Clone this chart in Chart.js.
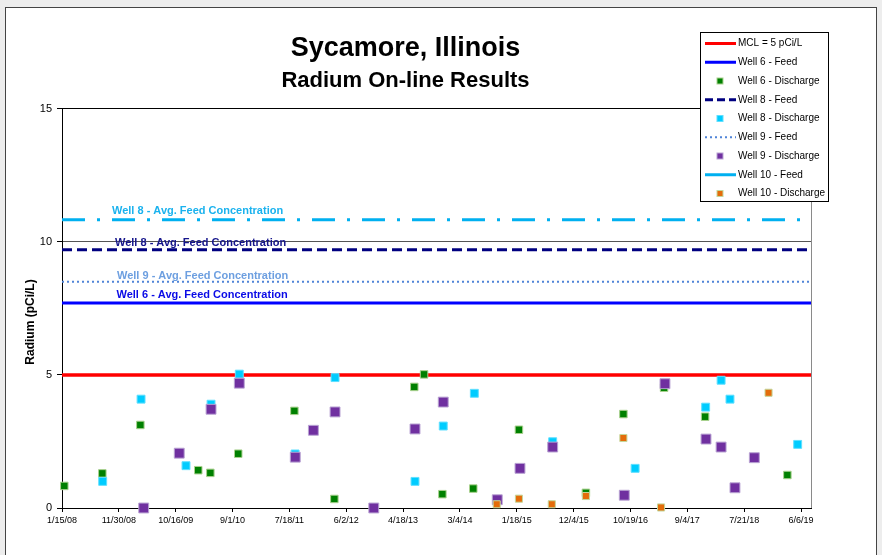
<!DOCTYPE html>
<html>
<head>
<meta charset="utf-8">
<script src="https://cdn.jsdelivr.net/npm/chart.js@4.4.0/dist/chart.umd.min.js"></script>
<style>
html,body{margin:0;padding:0;background:#ededed;}
#wrap{width:882px;height:555px;position:relative;}
canvas{display:block;}
</style>
</head>
<body>
<div id="wrap"><canvas id="c" width="882" height="555"></canvas></div>
<script>
// ---------- DATA ----------
const tickLabels = ['1/15/08','11/30/08','10/16/09','9/1/10','7/18/11','6/2/12','4/18/13','3/4/14','1/18/15','12/4/15','10/19/16','9/4/17','7/21/18','6/6/19'];
const axisStartDate = '1/15/08';
const axisEndDate = '8/1/19';
const yTicks = [0, 5, 10, 15];

const mclLevel = 5;
const well6FeedAvg = 7.7;
const well8FeedAvg = 9.7;
const well9FeedAvg = 8.5;
const well10FeedAvg = 10.83;

const well6DischargeDates = ['1/28/08','8/29/08','3/31/09','2/20/10','4/29/10','10/3/10','8/15/11','3/27/12','6/20/13','8/14/13','11/25/13','5/18/14','1/30/15','2/11/16','9/9/16','4/26/17','12/13/17','3/21/19'];
const well6DischargeValues = [0.83,1.30,3.12,1.42,1.32,2.04,3.65,0.34,4.55,5.02,0.52,0.73,2.94,0.57,3.53,4.52,3.43,1.24];

const well8DischargeDates = ['8/31/08','4/4/09','12/13/09','5/3/10','10/9/10','8/19/11','3/31/12','6/24/13','11/30/13','5/24/14','8/8/15','11/14/16','12/16/17','3/13/18','5/2/18','5/18/19'];
const well8DischargeValues = [1.00,4.09,1.59,3.90,5.03,2.03,4.90,1.00,3.08,4.31,2.49,1.49,3.79,4.80,4.09,2.39];

const well9DischargeDates = ['4/19/09','11/5/09','5/3/10','10/9/10','8/20/11','11/30/11','3/31/12','11/4/12','6/24/13','11/30/13','9/30/14','2/5/15','8/8/15','9/14/16','5/1/17','12/18/17','3/13/18','5/30/18','9/16/18'];
const well9DischargeValues = [0,2.06,3.71,4.69,1.91,2.92,3.61,0,2.97,3.98,0.31,1.49,2.29,0.48,4.67,2.59,2.29,0.76,1.89];

const well10DischargeDates = ['9/27/14','1/30/15','8/3/15','2/11/16','9/9/16','4/9/17','12/5/18'];
const well10DischargeValues = [0.14,0.35,0.14,0.45,2.63,0.02,4.33];

// ---------- HELPERS ----------
function toDay(s){ const p = s.split('/').map(Number); return Date.UTC(2000 + p[2], p[0] - 1, p[1]) / 86400000; }
function pts(dates, vals){ return dates.map((d, i) => ({x: toDay(d), y: vals[i]})); }
const xMin = toDay(axisStartDate), xMax = toDay(axisEndDate);
const tickDays = tickLabels.map(toDay);
function hline(v){ return [{x: xMin, y: v}, {x: xMax, y: v}]; }

const FONT = 'Arial, "Liberation Sans", Helvetica, sans-serif';

const C = {
  mcl: '#ff0000',
  w6line: '#0000ff', w6label: '#0a0ae6',
  w8line: '#000080', w8label: '#16168c',
  w9line: '#4f84d8', w9label: '#6d9fe0',
  w10line: '#00b0f0', w10label: '#1ab2ee',
  green: '#008000', greenB: '#a9d18e',
  cyan: '#00ccff', cyanB: '#5fdfff',
  purple: '#7030a0', purpleB: '#b9a3d3',
  orange: '#e46c0a', orangeB: '#c4d79b'
};

// ---------- PLUGIN: frame, labels, legend ----------
const decor = {
  id: 'decor',
  beforeDraw(chart){
    const ctx = chart.ctx;
    ctx.save();
    ctx.fillStyle = '#ededed';
    ctx.fillRect(0, 0, 882, 555);
    ctx.fillStyle = '#ffffff';
    ctx.fillRect(6, 8, 870, 560);
    ctx.strokeStyle = '#444';
    ctx.lineWidth = 1;
    ctx.strokeRect(5.5, 7.5, 871, 560);
    ctx.restore();
  },
  afterDraw(chart){
    const ctx = chart.ctx, a = chart.chartArea, ys = chart.scales.y;
    ctx.save();
    // right border of plot
    ctx.strokeStyle = '#8a8a8a'; ctx.lineWidth = 1;
    ctx.beginPath(); ctx.moveTo(Math.round(a.right) + 0.5, a.top); ctx.lineTo(Math.round(a.right) + 0.5, a.bottom); ctx.stroke();

    // line labels
    ctx.font = 'bold 11px ' + FONT;
    ctx.textBaseline = 'middle'; ctx.textAlign = 'left';
    const labs = [
      ['Well 8 - Avg. Feed Concentration', well10FeedAvg, 9.3, 112, C.w10label],
      ['Well 8 - Avg. Feed Concentration', well8FeedAvg, 7.3, 115, C.w8label],
      ['Well 9 - Avg. Feed Concentration', well9FeedAvg, 6.3, 117, C.w9label],
      ['Well 6 - Avg. Feed Concentration', well6FeedAvg, 8.3, 116.5, C.w6label]
    ];
    labs.forEach(l => { ctx.fillStyle = l[4]; ctx.fillText(l[0], l[3], ys.getPixelForValue(l[1]) - l[2]); });

    // y title
    ctx.save();
    ctx.translate(33.5, 322);
    ctx.rotate(-Math.PI / 2);
    ctx.font = 'bold 12px ' + FONT;
    ctx.fillStyle = '#000'; ctx.textAlign = 'center'; ctx.textBaseline = 'alphabetic';
    ctx.fillText('Radium (pCi/L)', 0, 0);
    ctx.restore();

    // legend
    const lx = 700.5, ly = 32.5, lw = 128, lh = 169;
    ctx.fillStyle = '#fff'; ctx.fillRect(lx, ly, lw, lh);
    ctx.strokeStyle = '#000'; ctx.lineWidth = 1; ctx.strokeRect(lx, ly, lw, lh);
    const items = [
      {t: 'MCL = 5 pCi/L', k: 'line', c: C.mcl, w: 3, d: []},
      {t: 'Well 6 - Feed', k: 'line', c: C.w6line, w: 3, d: []},
      {t: 'Well 6 - Discharge', k: 'pt', c: C.green, b: C.greenB, s: 6},
      {t: 'Well 8 - Feed', k: 'line', c: C.w8line, w: 3, d: [8, 4]},
      {t: 'Well 8 - Discharge', k: 'pt', c: C.cyan, b: C.cyanB, s: 6},
      {t: 'Well 9 - Feed', k: 'line', c: C.w9line, w: 2, d: [2, 3]},
      {t: 'Well 9 - Discharge', k: 'pt', c: C.purple, b: C.purpleB, s: 6},
      {t: 'Well 10 - Feed', k: 'line', c: C.w10line, w: 3, d: []},
      {t: 'Well 10 - Discharge', k: 'pt', c: C.orange, b: C.orangeB, s: 6}
    ];
    ctx.font = '10px ' + FONT;
    items.forEach((it, i) => {
      const yc = 43.5 + i * 18.75;
      if (it.k === 'line') {
        ctx.strokeStyle = it.c; ctx.lineWidth = it.w; ctx.setLineDash(it.d);
        ctx.beginPath(); ctx.moveTo(705, yc); ctx.lineTo(736, yc); ctx.stroke();
        ctx.setLineDash([]);
      } else {
        ctx.fillStyle = it.b; ctx.fillRect(720 - it.s / 2 - 0.5, yc - it.s / 2 - 0.5, it.s + 1, it.s + 1);
        ctx.fillStyle = it.c; ctx.fillRect(720 - it.s / 2 + 0.5, yc - it.s / 2 + 0.5, it.s - 1, it.s - 1);
      }
      ctx.fillStyle = '#000'; ctx.textBaseline = 'middle'; ctx.textAlign = 'left';
      ctx.fillText(it.t, 738, yc);
    });
    ctx.restore();
  }
};

// ---------- CHART ----------
function lineDs(label, v, color, width, dash, order){
  return {type: 'line', label, data: hline(v), borderColor: color, backgroundColor: color, borderWidth: width,
          borderDash: dash, pointRadius: 0, showLine: true, fill: false, order, borderCapStyle: 'butt'};
}
function ptDs(label, data, fill, border, r, order){
  return {type: 'scatter', label, data, pointStyle: 'rect', pointRadius: r, backgroundColor: fill,
          borderColor: border, borderWidth: 1, order, clip: false};
}

new Chart(document.getElementById('c'), {
  type: 'scatter',
  data: {
    datasets: [
      ptDs('Well 10 - Discharge', pts(well10DischargeDates, well10DischargeValues), C.orange, C.orangeB, 5, 1),
      ptDs('Well 9 - Discharge', pts(well9DischargeDates, well9DischargeValues), C.purple, C.purpleB, 7, 2),
      ptDs('Well 8 - Discharge', pts(well8DischargeDates, well8DischargeValues), C.cyan, C.cyanB, 5.6, 3),
      ptDs('Well 6 - Discharge', pts(well6DischargeDates, well6DischargeValues), C.green, C.greenB, 5.3, 4),
      lineDs('MCL = 5 pCi/L', mclLevel, C.mcl, 3.5, [], 5),
      lineDs('Well 6 - Feed', well6FeedAvg, C.w6line, 3, [], 6),
      lineDs('Well 9 - Feed', well9FeedAvg, C.w9line, 2, [2, 3], 7),
      lineDs('Well 8 - Feed', well8FeedAvg, C.w8line, 3, [10, 5], 8),
      lineDs('Well 10 - Feed', well10FeedAvg, C.w10line, 3, [23, 12, 3, 12], 9)
    ]
  },
  options: {
    responsive: false,
    animation: false,
    events: [],
    layout: {padding: {left: 0, right: 71, top: 0, bottom: 0}},
    plugins: {
      legend: {display: false},
      tooltip: {enabled: false},
      title: {display: true, text: 'Sycamore, Illinois', color: '#000',
              font: {family: FONT, size: 27, weight: 'bold'}, padding: {top: 32, bottom: 0}},
      subtitle: {display: true, text: 'Radium On-line Results', color: '#000',
              font: {family: FONT, size: 22, weight: 'bold'}, padding: {top: 3, bottom: 15}}
    },
    scales: {
      x: {
        type: 'linear', min: xMin, max: xMax,
        afterFit: s => { s.height = 47; },
        afterBuildTicks: s => { s.ticks = tickDays.map(v => ({value: v})); },
        ticks: {autoSkip: false, maxRotation: 0, minRotation: 0, padding: 3, color: '#000',
                font: {family: FONT, size: 9},
                callback: (v, i) => tickLabels[i]},
        grid: {drawOnChartArea: false, tickLength: 4, color: '#000', tickColor: '#000'},
        border: {color: '#000', width: 1}
      },
      y: {
        type: 'linear', min: 0, max: 15,
        afterFit: s => { s.width = 62; },
        afterBuildTicks: s => { s.ticks = yTicks.map(v => ({value: v})); },
        ticks: {padding: 5, color: '#000', font: {family: FONT, size: 11}},
        grid: {tickLength: 5, tickColor: '#000', lineWidth: 1,
               color: c => (c.tick && c.tick.value === 15) ? '#000' : (c.tick && c.tick.value === 0 ? 'rgba(0,0,0,0)' : '#555')},
        border: {color: '#000', width: 1}
      }
    }
  },
  plugins: [decor]
});
</script>
</body>
</html>
